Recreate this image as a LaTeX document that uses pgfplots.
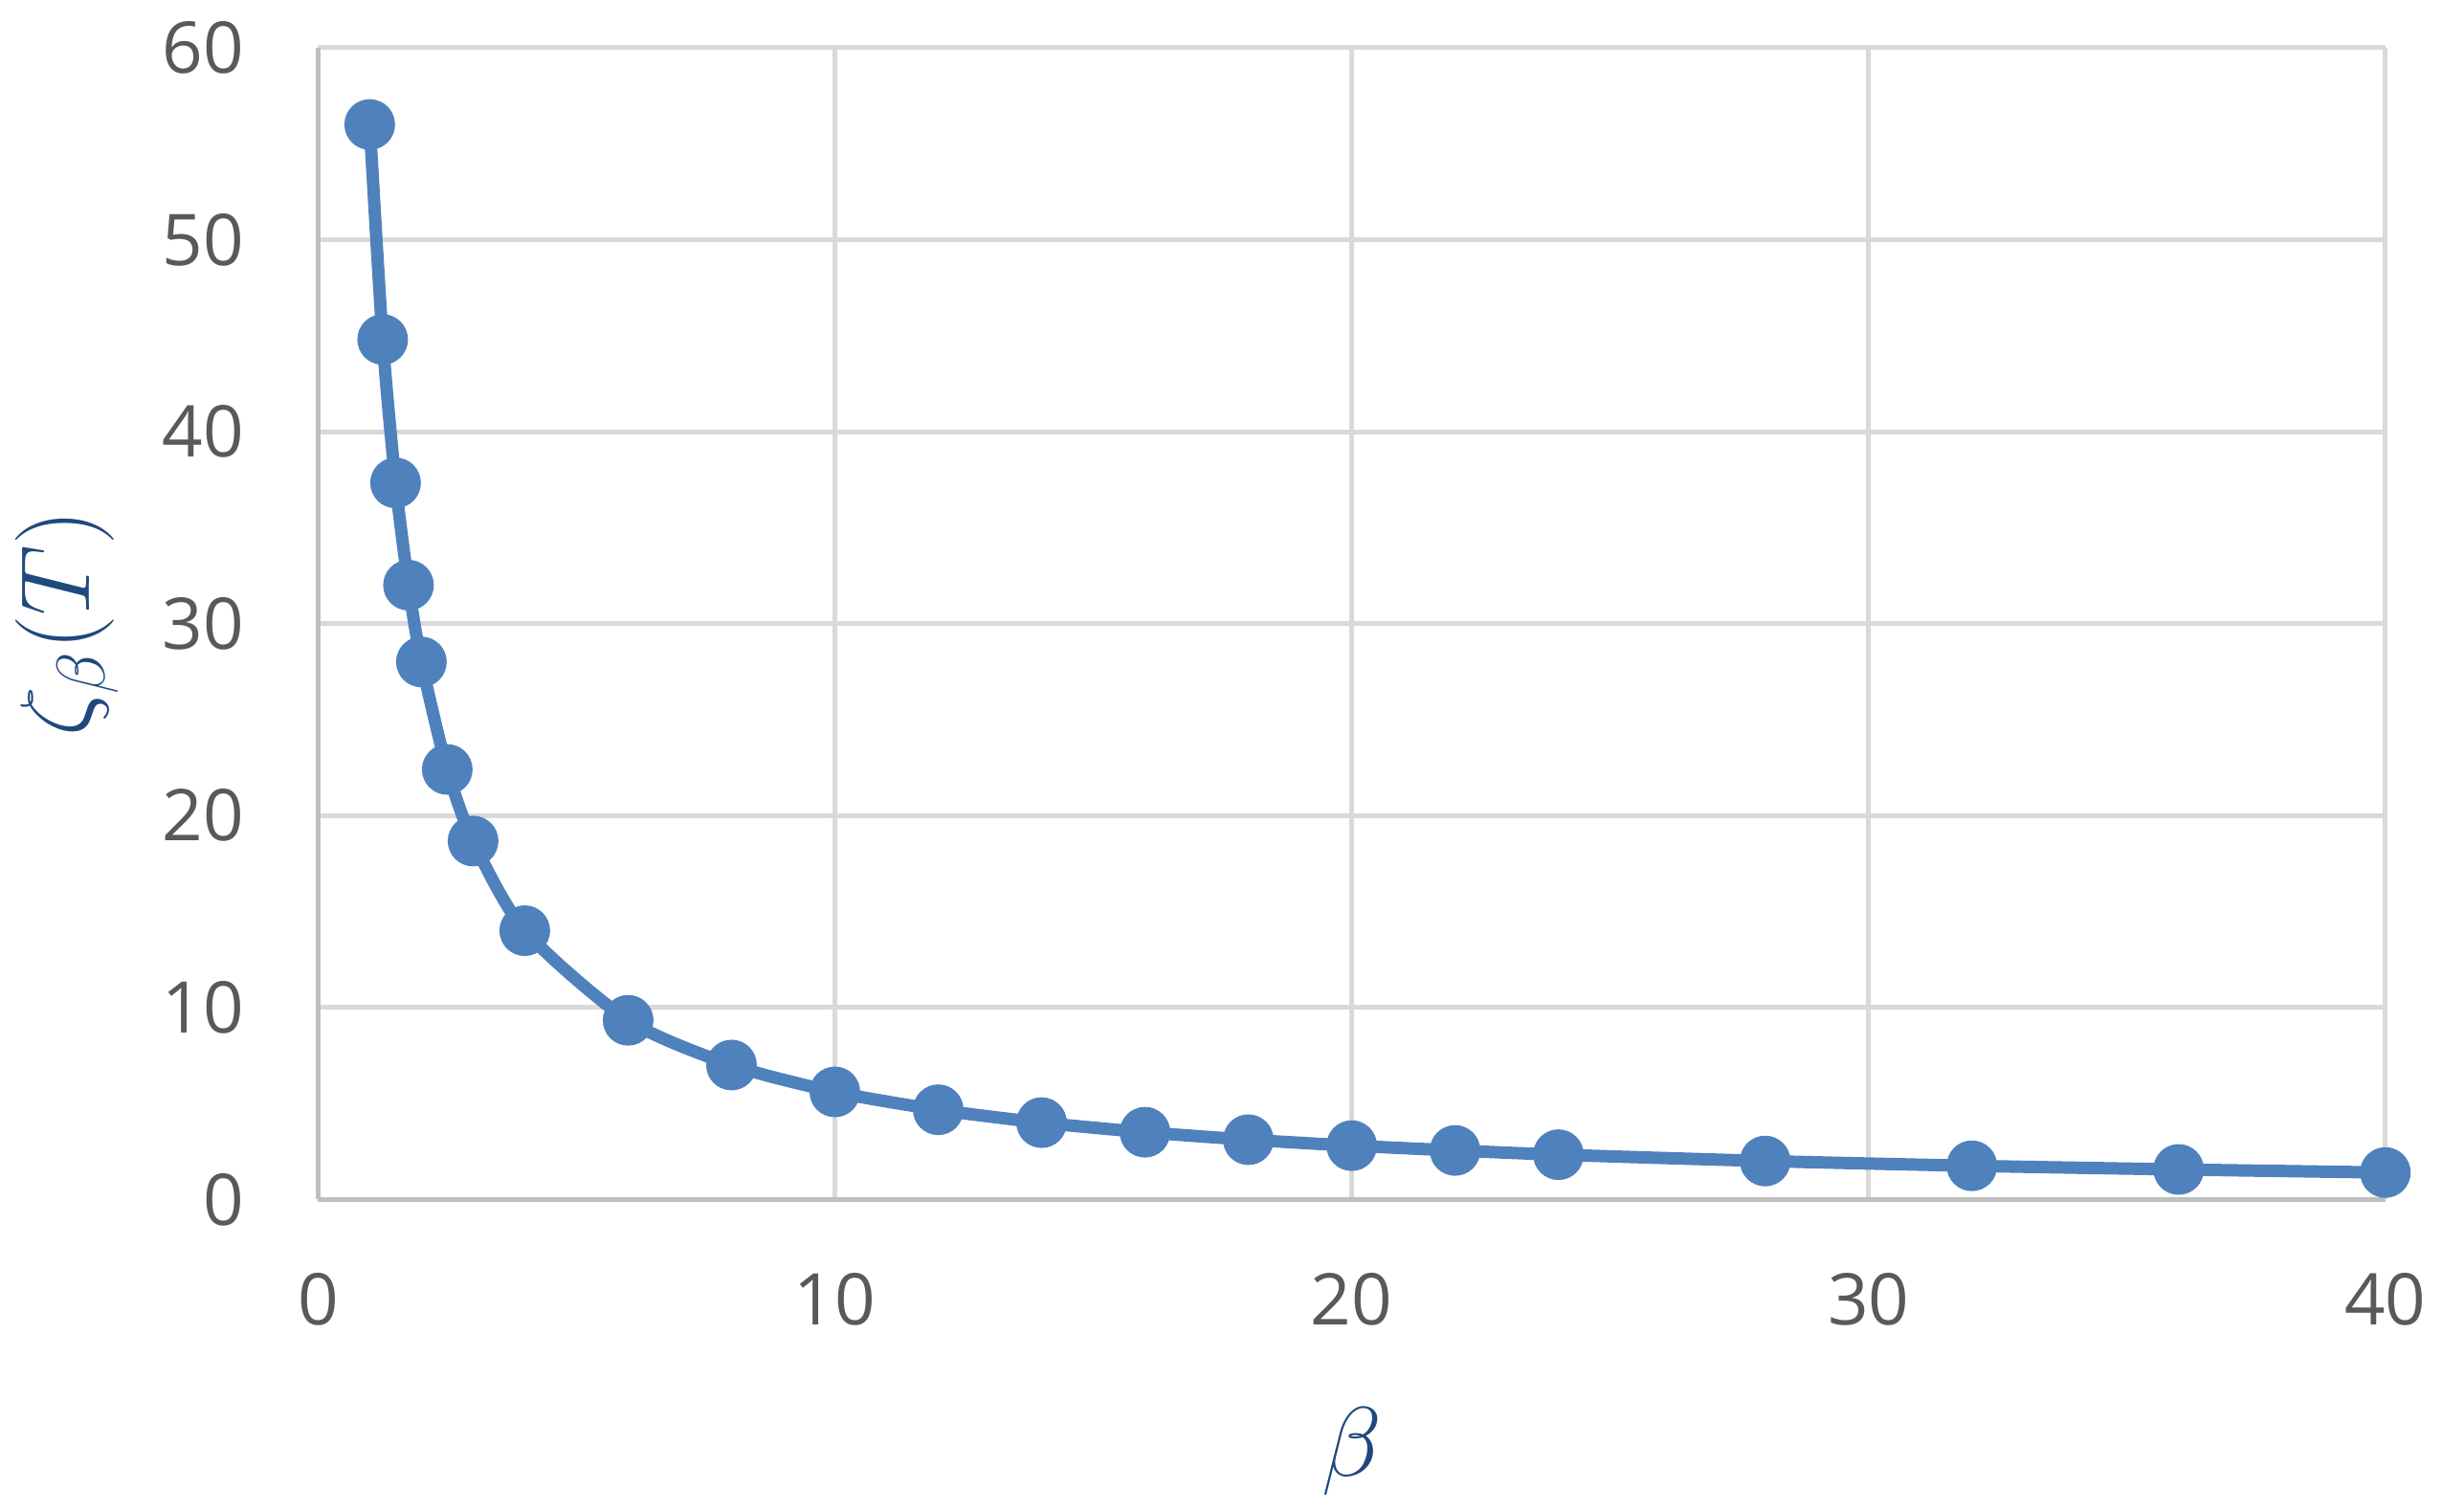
\documentclass[border=0pt]{standalone}
\usepackage{pgfplots}
\pgfplotsset{compat=1.18}
\usepackage{fontspec}
\setmainfont{Open Sans}
\definecolor{serie}{HTML}{4F81BD}
\definecolor{grille}{HTML}{D9D9D9}
\definecolor{axe}{HTML}{BFBFBF}
\definecolor{chiffres}{HTML}{595959}
\definecolor{titre}{HTML}{1F497D}

\begin{document}
\begin{tikzpicture}
  \begin{axis}[
    scale only axis,
    width=433bp, height=241.2bp,
    xmin=0, xmax=40, ymin=0, ymax=60,
    xtick={0,10,...,40}, ytick={0,10,...,60},
    axis x line*=bottom, axis y line*=left,
    axis line style={axe, line width=1bp, -},
    grid=major,
    major grid style={grille, line width=1bp},
    major tick length=0pt,
    tick label style={font=\fontsize{15}{18}\selectfont, text=chiffres},
    /pgf/number format/assume math mode=true,
    xticklabel style={yshift=-12bp},
    yticklabel style={xshift=-12bp},
    xlabel={$\beta$},
    ylabel={$\zeta_\beta(T)$},
    label style={font=\fontsize{20}{24}\selectfont, text=titre},
    xlabel style={at={(axis description cs:0.5,-0.2189)}, anchor=center},
    ylabel style={at={(axis description cs:-0.1215,0.5)}, anchor=center},
  ]
    \addplot[serie, line width=2.6bp, smooth, tension=0.45,
      mark=*, mark size=4bp, mark options={fill=serie, draw=serie}]
      coordinates {
        (1,56) (1.25,44.8) (1.5,37.33) (1.75,32) (2,28) (2.5,22.4)
        (3,18.67) (4,14) (6,9.33) (8,7) (10,5.6) (12,4.67) (14,4)
        (16,3.5) (18,3.11) (20,2.8) (22,2.55) (24,2.33) (28,2)
        (32,1.75) (36,1.56) (40,1.4)
      };
  \end{axis}
  \path (current axis.south west) ++(-65.6bp,-64.6bp)
    rectangle ([shift={(11.8bp,10bp)}]current axis.north east);
\end{tikzpicture}
\end{document}
